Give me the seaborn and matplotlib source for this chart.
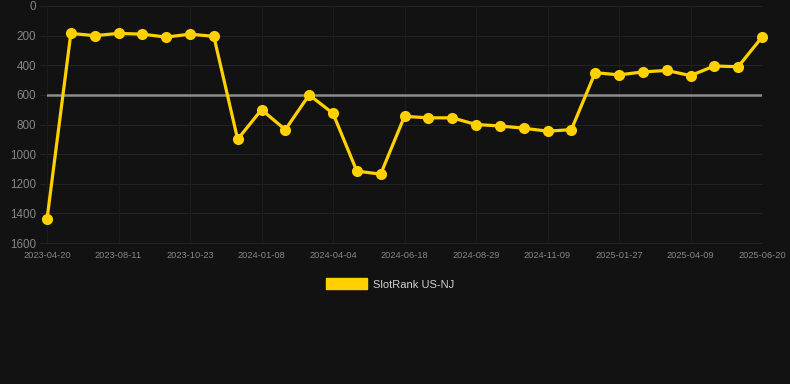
import numpy as np
import pandas as pd
import seaborn as sns
import matplotlib.pyplot as plt
from matplotlib.patches import Patch

# data (rank, lower is better)
dates = [
    '2023-04-20', '2023-06-01', '2023-07-10',
    '2023-08-11', '2023-09-05', '2023-09-28',
    '2023-10-23', '2023-11-15', '2023-12-10',
    '2024-01-08', '2024-02-05', '2024-03-05',
    '2024-04-04', '2024-04-30', '2024-05-24',
    '2024-06-18', '2024-07-12', '2024-08-05',
    '2024-08-29', '2024-09-22', '2024-10-16',
    '2024-11-09', '2024-12-05', '2025-01-01',
    '2025-01-27', '2025-02-20', '2025-03-16',
    '2025-04-09', '2025-05-03', '2025-05-27',
    '2025-06-20',
]
ranks = [
    1440, 185, 200, 185, 190, 210, 190, 205,
    900, 700, 835, 600, 725, 1115, 1135,
    745, 755, 755, 800, 810, 825, 845, 835,
    450, 465, 445, 435, 470, 405, 410, 210,
]
series_name = 'SlotRank US-NJ'
ref_level = 600

bg = '#121212'
gold = '#FFD100'
tick_col = '#858585'

sns.set_theme(style='dark')
plt.rcParams['font.family'] = ['Liberation Sans', 'DejaVu Sans']

df = pd.DataFrame({'idx': np.arange(len(dates)), 'date': dates, 'rank': ranks})

fig = plt.figure(figsize=(7.9, 3.84), dpi=100, facecolor=bg)
ax = fig.add_axes([47 / 790, 1 - 243 / 384, 715 / 790, 237 / 384])
ax.set_facecolor(bg)

# grid: horizontal lines poke out a little to the left like chart.js ticks
for y in range(0, 1601, 200):
    ax.plot([-0.3, len(dates) - 1], [y, y], color='#232323', lw=0.8, zorder=0, clip_on=False)
for x in range(0, len(dates), 3):
    ax.axvline(x, color='#1c1c1c', lw=0.8, zorder=0)

ax.axhline(ref_level, color='#8c8c8c', lw=1.8, zorder=1)

sns.lineplot(data=df, x='idx', y='rank', ax=ax, color=gold, lw=2.3,
             marker='o', markersize=8, markeredgewidth=0,
             markerfacecolor=gold, zorder=3, clip_on=False)

ax.set_xlim(0, len(dates) - 1)
ax.set_ylim(1600, 0)
ax.set_yticks(range(0, 1601, 200))
ax.set_yticklabels([str(v) for v in range(0, 1601, 200)], fontsize=8.4, color=tick_col)
ax.set_xticks(range(0, len(dates), 3))
ax.set_xticklabels(dates[::3], fontsize=6.7, color=tick_col)
ax.tick_params(axis='y', length=0, pad=8)
ax.tick_params(axis='x', length=0, pad=6)
ax.set_xlabel('')
ax.set_ylabel('')
for s in ax.spines.values():
    s.set_visible(False)

handle = Patch(facecolor=gold, edgecolor=gold)
fig.legend([handle], [series_name], loc='center', bbox_to_anchor=(390 / 790, 1 - 284 / 384),
           frameon=False, fontsize=8, labelcolor='#d0d0d0',
           handlelength=3.7, handleheight=1.1, handletextpad=0.5)

fig.savefig('out.png', dpi=100, facecolor=bg)
